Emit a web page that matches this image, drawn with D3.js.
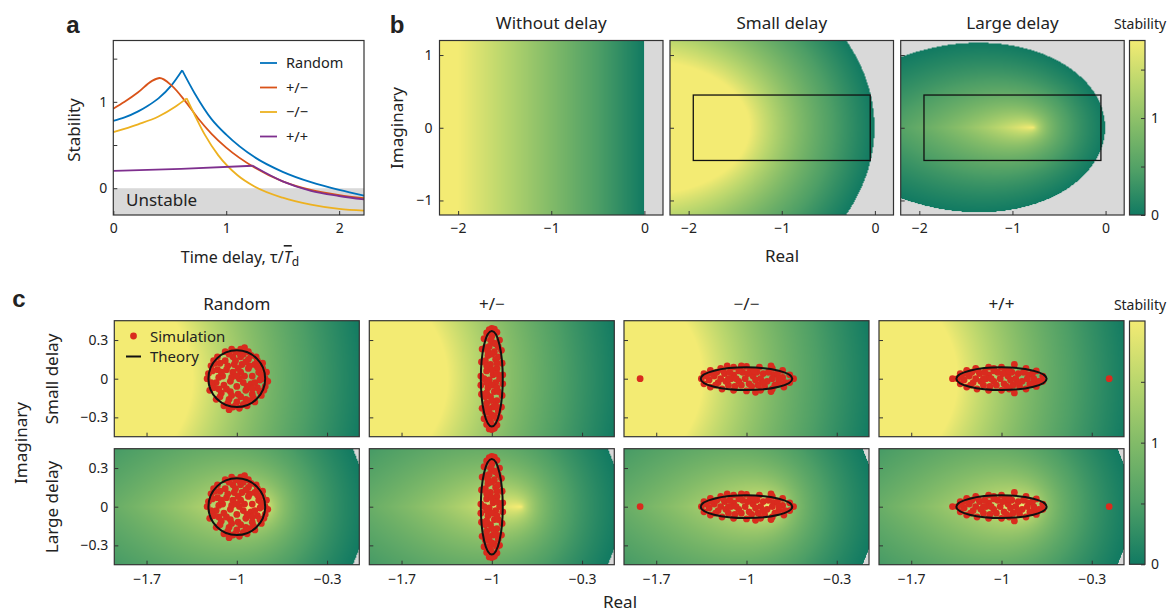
<!DOCTYPE html>
<html>
<head>
<meta charset="utf-8">
<script src="https://cdn.jsdelivr.net/npm/d3@7"></script>
<style>
  body { margin: 0; background: #fff; }
  text { font-family: "Noto Sans", "Open Sans", sans-serif; fill: #222; }
</style>
</head>
<body>
<svg id="fig"></svg>
<script>
// ---------- data ----------
// panel a: stability vs time delay
const curveRandom = [[0,0.78],[0.1,0.82],[0.22,0.89],[0.3,0.95],[0.4,1.04],[0.515,1.19],[0.61,1.365],
  [0.72,1.10],[0.87,0.80],[1.0,0.62],[1.25,0.36],[1.5,0.19],[1.75,0.07],[2.0,-0.02],[2.22,-0.085]];
const curvePlusMinus = [[0,0.92],[0.1,1.0],[0.22,1.11],[0.34,1.24],[0.41,1.276],[0.515,1.19],[0.63,1.02],
  [0.75,0.81],[0.87,0.63],[1.0,0.47],[1.25,0.24],[1.5,0.08],[1.75,-0.02],[2.0,-0.08],[2.22,-0.115]];
const curveMinusMinus = [[0,0.65],[0.22,0.74],[0.4,0.83],[0.545,0.94],[0.65,1.04],[0.72,0.85],[0.81,0.62],
  [0.93,0.38],[1.1,0.15],[1.25,0.02],[1.5,-0.11],[1.75,-0.19],[2.0,-0.24],[2.22,-0.26]];
const curvePlusPlus = [[0,0.20],[0.6,0.225],[1.235,0.26],[1.5,0.08],[1.75,-0.03],[2.0,-0.09],[2.22,-0.13]];
const curveNames = ["Random", "+/\u2212", "\u2212/\u2212", "+/+"];
const curveColors = ["#0072bd", "#d95319", "#edb120", "#7e2f8e"];
const curveKinks = [6, null, 4, 2]; // index of the sharp corner (if any)

// panel b / c: delay settings of the theory field
const fieldKinds = ["none", "small", "large"];
const fieldTitles = ["Without delay", "Small delay", "Large delay"];
const delayTau = { none: 0, small: 0.2, large: 0.48 };

// stability colour map
const stabStops = [0, 0.5, 1, 1.5, 2];
const stabColors = ["#117a62", "#4e9f66", "#82bb68", "#b9d66d", "#f3eb73"];

// panel c: eigenvalues (simulation) and theory ellipses
const colTitles = ["Random", "+/\u2212", "\u2212/\u2212", "+/+"];
const theoryCenter = [-1, -1, -1, -1];
const theoryRx = [0.22, 0.085, 0.355, 0.35];
const theoryRy = [0.22, 0.37, 0.088, 0.088];

const simRandom = [
  [-0.78,0.00],[-0.77,0.05],[-0.78,-0.06],[-0.80,0.12],[-0.81,-0.13],[-0.85,0.17],[-0.86,-0.18],[-0.91,0.21],
  [-0.92,-0.21],[-0.97,0.23],[-0.98,-0.23],[-1.04,0.23],[-1.03,-0.22],[-1.09,0.21],[-1.10,-0.21],[-1.15,0.17],
  [-1.16,-0.16],[-1.20,0.10],[-1.21,-0.09],[-1.23,0.00],[-1.22,0.04],[-0.94,0.24],[-1.06,-0.24],[-0.76,-0.02],
  [-0.83,0.05],[-0.84,-0.07],[-0.86,0.11],[-0.88,-0.12],[-0.91,0.15],[-0.93,-0.16],[-0.97,0.17],[-1.00,-0.18],
  [-1.03,0.17],[-1.06,-0.16],[-1.09,0.14],[-1.12,-0.11],[-1.15,0.07],[-1.16,-0.03],[-1.14,0.01],[-0.82,-0.01],
  [-0.88,0.02],[-0.89,-0.04],[-0.91,0.08],[-0.93,-0.09],[-0.96,0.11],[-0.99,-0.12],[-1.02,0.11],[-1.05,-0.10],
  [-1.08,0.07],[-1.10,-0.05],[-1.11,0.02],[-0.90,0.10],[-0.94,0.02],[-0.95,-0.03],[-0.97,0.05],[-1.00,-0.06],
  [-1.03,0.05],[-1.05,-0.02],[-1.04,0.01],[-0.98,0.00],[-1.00,0.02],[-0.80,0.08],[-0.82,-0.10],[-0.84,0.14],
  [-0.87,-0.15],[-0.95,0.19],[-1.01,0.21],[-1.07,-0.19],[-1.13,0.12],[-1.18,-0.07],[-1.19,0.06],[-1.17,0.12],
  [-1.13,-0.14],[-0.89,0.18],[-0.95,-0.20],[-1.01,0.14],[-0.97,-0.14],[-1.07,0.10],[-0.92,-0.06],[-0.86,-0.03],
  [-1.08,-0.08],[-1.12,0.05],[-0.93,0.13],[-1.04,-0.13],[-0.79,-0.09],[-0.81,0.03],[-1.18,0.14],[-1.20,-0.03],
  [-0.88,-0.08],[-0.99,0.08],[-1.06,0.19],[-0.98,0.20],[-0.84,0.09],[-1.14,-0.08],[-1.01,-0.21],[-0.90,-0.17]];
const simPlusMinus = [
  [-1.00,0.39],[-0.98,0.385],[-1.02,0.38],[-0.96,0.36],[-1.04,0.355],[-0.94,0.30],[-1.06,0.31],[-0.925,0.22],
  [-1.075,0.23],[-0.92,0.12],[-1.08,0.13],[-0.915,0.03],[-1.085,0.02],[-0.915,-0.04],[-1.085,-0.05],[-0.92,-0.13],
  [-1.08,-0.12],[-0.925,-0.22],[-1.075,-0.23],[-0.94,-0.30],[-1.06,-0.31],[-0.96,-0.36],[-1.04,-0.355],[-0.98,-0.385],
  [-1.02,-0.39],[-1.00,-0.395],[-1.00,0.33],[-0.99,0.28],[-1.02,0.25],[-0.98,0.21],[-1.03,0.18],[-0.97,0.15],
  [-1.01,0.11],[-0.96,0.08],[-1.04,0.06],[-0.99,0.03],[-1.02,-0.01],[-0.97,-0.03],[-1.03,-0.07],[-0.98,-0.10],
  [-1.01,-0.14],[-0.96,-0.17],[-1.04,-0.19],[-0.99,-0.22],[-1.02,-0.26],[-0.98,-0.29],[-1.01,-0.33],[-0.95,0.25],
  [-1.05,0.24],[-0.95,-0.25],[-1.05,-0.26],[-0.94,0.0],[-1.06,0.0],[-0.95,0.17],[-1.05,-0.14],[-1.05,0.14],[-0.95,-0.10],
  [-0.99,0.36],[-1.01,0.30],[-0.97,0.27],[-1.03,0.21],[-1.00,0.19],[-0.96,0.12],[-1.04,0.10],[-1.00,0.07],
  [-0.96,0.04],[-1.04,-0.03],[-1.00,-0.05],[-0.96,-0.07],[-1.04,-0.11],[-1.00,-0.17],[-0.97,-0.21],[-1.03,-0.23],
  [-1.00,-0.28],[-0.96,-0.31],[-1.03,-0.31],[-1.00,-0.36]];
const simMinusMinus = [
  [-1.35,0.0],[-1.33,0.04],[-1.33,-0.04],[-1.28,0.065],[-1.28,-0.065],[-1.20,0.08],[-1.19,-0.08],[-1.10,0.09],
  [-1.10,-0.09],[-1.00,0.095],[-1.00,-0.095],[-0.90,0.09],[-0.89,-0.09],[-0.80,0.08],[-0.80,-0.08],[-0.72,0.065],
  [-0.71,-0.065],[-0.665,0.03],[-0.665,-0.03],[-0.635,0.0],[-0.81,0.10],[-0.81,-0.10],[-1.15,0.10],[-1.04,0.10],
  [-0.93,-0.105],[-1.25,0.02],[-1.22,-0.03],[-1.17,0.04],[-1.14,-0.05],[-1.10,0.03],[-1.06,-0.02],[-1.03,0.05],
  [-0.98,-0.04],[-0.95,0.02],[-0.91,-0.05],[-0.87,0.04],[-0.84,-0.02],[-0.79,0.03],[-0.75,-0.03],[-0.72,0.01],
  [-1.29,-0.01],[-1.12,0.0],[-0.97,0.06],[-0.93,-0.01],[-1.20,0.0],[-0.86,-0.06],[-1.06,0.06],[-1.01,0.0],
  [-0.78,-0.05],[-1.16,-0.02],[-1.27,0.04],[-1.24,-0.05],[-1.18,0.06],[-1.13,0.05],[-1.09,-0.06],[-1.04,-0.05],
  [-0.99,0.04],[-0.96,-0.06],[-0.92,0.05],[-0.89,0.0],[-0.83,0.05],[-0.80,0.0],[-0.76,0.04],[-0.70,-0.03],
  [-1.31,0.02],[-1.08,0.0],[-0.87,-0.03],[-1.23,0.05],[-0.94,0.06],[-1.14,0.0],[-0.75,0.0],[-1.825,0.0]];
const simPlusPlus = [
  [-1.34,0.0],[-1.32,0.04],[-1.32,-0.04],[-1.27,0.065],[-1.27,-0.065],[-1.20,0.08],[-1.19,-0.08],[-1.10,0.09],
  [-1.10,-0.09],[-1.00,0.09],[-1.00,-0.09],[-0.90,0.11],[-0.90,-0.11],[-0.81,0.08],[-0.81,-0.08],[-0.73,0.06],
  [-0.73,-0.06],[-0.68,0.02],[-0.68,-0.02],[-1.38,0.0],[-1.25,0.02],[-1.22,-0.03],[-1.17,0.04],[-1.14,-0.05],
  [-1.10,0.03],[-1.06,-0.02],[-1.03,0.05],[-0.98,-0.04],[-0.95,0.02],[-0.91,-0.05],[-0.87,0.04],[-0.84,-0.02],
  [-0.79,0.03],[-0.75,-0.03],[-1.29,-0.01],[-1.12,0.0],[-0.97,0.06],[-0.93,-0.01],[-1.20,0.0],[-0.86,-0.06],
  [-1.06,0.06],[-1.01,0.0],[-0.78,-0.04],[-1.16,-0.02],[-1.06,0.08],[-0.94,-0.08],[-1.27,0.04],[-1.24,-0.05],
  [-1.18,0.06],[-1.13,0.05],[-1.09,-0.06],[-1.04,-0.05],[-0.99,0.04],[-0.96,-0.06],[-0.92,0.05],[-0.89,0.0],
  [-0.83,0.05],[-0.80,0.0],[-0.76,0.04],[-0.71,-0.02],[-1.31,0.02],[-1.08,0.0],[-0.87,-0.03],[-1.23,0.05],
  [-0.94,0.06],[-1.14,0.0],[-0.75,0.0],[-0.165,0.0]];
const simPoints = [simRandom, simPlusMinus, simMinusMinus, simPlusPlus];

// ---------- setup ----------
const W = 1169, H = 613;
const svg = d3.select("#fig").attr("width", W).attr("height", H);
svg.append("rect").attr("width", W).attr("height", H).attr("fill", "#fff");
const GRAY = "#d9d9d9";
const FRAME = "#333";
const TICK = 14;
const minus = (d) => String(d).replace("-", "\u2212");

const colorScale = d3.scaleLinear().domain(stabStops).range(stabColors).clamp(true);
const lut = d3.range(513).map((i) => d3.rgb(colorScale((i / 512) * 2)));
const grayRgb = d3.rgb(GRAY);

// principal branch of the Lambert W function (complex)
function lambertW0(zr, zi) {
  const guesses = [];
  const ar = 2 * (Math.E * zr + 1), ai = 2 * Math.E * zi;
  const m = Math.sqrt(Math.hypot(ar, ai)), an = Math.atan2(ai, ar) / 2;
  const pr = m * Math.cos(an), pi = m * Math.sin(an);
  const p2r = pr * pr - pi * pi, p2i = 2 * pr * pi;
  const p3r = p2r * pr - p2i * pi, p3i = p2r * pi + p2i * pr;
  guesses.push([-1 + pr - p2r / 3 + (11 / 72) * p3r, pi - p2i / 3 + (11 / 72) * p3i]);
  const lr = Math.log(Math.hypot(1 + zr, zi)), li = Math.atan2(zi, 1 + zr);
  guesses.push([lr, li]);
  guesses.push([0, 0]);
  guesses.push([-0.5, zi >= 0 ? 1 : -1]);
  for (const g of guesses) {
    let wr = g[0], wi = g[1];
    for (let k = 0; k < 60; k++) {
      const e = Math.exp(wr);
      const er = e * Math.cos(wi), ei = e * Math.sin(wi);
      const fr = wr * er - wi * ei - zr, fi = wr * ei + wi * er - zi;
      const a1r = wr + 1, a1i = wi;
      const t1r = er * a1r - ei * a1i, t1i = er * a1i + ei * a1r;
      const nr = (wr + 2) * fr - wi * fi, ni = (wr + 2) * fi + wi * fr;
      const dr = 2 * a1r, di = 2 * a1i, dd = dr * dr + di * di || 1e-300;
      const t2r = (nr * dr + ni * di) / dd, t2i = (ni * dr - nr * di) / dd;
      const Dr = t1r - t2r, Di = t1i - t2i, DD = Dr * Dr + Di * Di || 1e-300;
      const sr = (fr * Dr + fi * Di) / DD, si = (fi * Dr - fr * Di) / DD;
      wr -= sr; wi -= si;
      if (Math.abs(sr) + Math.abs(si) < 1e-12) break;
    }
    const ok = Math.abs(wi) < Math.PI &&
      (Math.abs(wi) < 1e-9 ? wr >= -1 - 1e-6 : wr > -wi / Math.tan(wi) - 1e-6);
    if (ok && isFinite(wr)) return [wr, wi];
  }
  return [NaN, NaN];
}

function stability(kind, re, im) {
  const tau = delayTau[kind];
  if (!tau) return -re;
  const w = lambertW0(re * tau, im * tau);
  return -w[0] / tau;
}

function fieldImage(kind, xs, ys) {
  const x0 = xs.range()[0], y0 = ys.range()[1];
  const w = Math.round(xs.range()[1] - x0), h = Math.round(ys.range()[0] - y0);
  const canvas = document.createElement("canvas");
  canvas.width = w; canvas.height = h;
  const ctx = canvas.getContext("2d");
  const img = ctx.createImageData(w, h);
  for (let j = 0; j < h; j++) {
    const im = ys.invert(y0 + j + 0.5);
    for (let i = 0; i < w; i++) {
      const re = xs.invert(x0 + i + 0.5);
      const s = stability(kind, re, im);
      const c = !(s >= 0) ? grayRgb : lut[Math.min(512, Math.round((s / 2) * 512))];
      const k = (j * w + i) * 4;
      img.data[k] = c.r; img.data[k + 1] = c.g; img.data[k + 2] = c.b; img.data[k + 3] = 255;
    }
  }
  ctx.putImageData(img, 0, 0);
  return canvas.toDataURL();
}

function drawField(url, xs, ys) {
  svg.append("image")
    .attr("href", url)
    .attr("x", xs.range()[0]).attr("y", ys.range()[1])
    .attr("width", xs.range()[1] - xs.range()[0])
    .attr("height", ys.range()[0] - ys.range()[1])
    .attr("preserveAspectRatio", "none");
}

function frame(xs, ys) {
  svg.append("rect")
    .attr("x", xs.range()[0]).attr("y", ys.range()[1])
    .attr("width", xs.range()[1] - xs.range()[0])
    .attr("height", ys.range()[0] - ys.range()[1])
    .attr("fill", "none").attr("stroke", FRAME).attr("stroke-width", 1.2);
}

function axes(xs, ys, xTicks, yTicks, opts) {
  const xa = d3.axisBottom(xs).tickValues(xTicks).tickSize(-4).tickPadding(opts.xPad || 10)
    .tickFormat((d) => (opts.xLabels && (!opts.xShow || opts.xShow.includes(d)) ? minus(d) : ""));
  const gx = svg.append("g").attr("transform", `translate(0,${ys.range()[0]})`).call(xa);
  const ya = d3.axisLeft(ys).tickValues(yTicks).tickSize(-4).tickPadding(opts.yPad || 6)
    .tickFormat((d) => (opts.yLabels && (!opts.yShow || opts.yShow.includes(d)) ? minus(d) : ""));
  const gy = svg.append("g").attr("transform", `translate(${xs.range()[0]},0)`).call(ya);
  [gx, gy].forEach((g) => {
    g.select(".domain").remove();
    g.selectAll("line").attr("stroke", FRAME);
    g.selectAll("text").attr("font-size", TICK).attr("fill", "#222")
      .attr("font-family", '"Noto Sans", sans-serif');
  });
}

function label(x, y, txt, size, opts = {}) {
  const t = svg.append("text").attr("x", x).attr("y", y).attr("font-size", size)
    .attr("text-anchor", opts.anchor || "middle").text(txt);
  if (opts.rotate) t.attr("transform", `rotate(-90,${x},${y})`);
  if (opts.bold) t.attr("font-weight", 700).style("font-family", "Arial, 'Liberation Sans', sans-serif");
  return t;
}

// ---------- panel a ----------
{
  const xs = d3.scaleLinear().domain([0, 2.22]).range([113.3, 364]);
  const ys = d3.scaleLinear().domain([-0.31, 1.71]).range([215, 40.5]);
  svg.append("rect").attr("x", 113.3).attr("y", ys(0)).attr("width", 364 - 113.3)
    .attr("height", 215 - ys(0)).attr("fill", GRAY);
  label(126, 206, "Unstable", 17, { anchor: "start" });
  const curves = [curveRandom, curvePlusMinus, curveMinusMinus, curvePlusPlus];
  const line = d3.line().x((d) => xs(d[0])).y((d) => ys(d[1])).curve(d3.curveMonotoneX);
  curves.forEach((c, i) => {
    const k = curveKinks[i];
    const parts = k == null ? [c] : [c.slice(0, k + 1), c.slice(k)];
    parts.forEach((p) => {
      svg.append("path").attr("d", line(p)).attr("fill", "none")
        .attr("stroke", curveColors[i]).attr("stroke-width", 1.8);
    });
  });
  frame(xs, ys);
  axes(xs, ys, [0, 1, 2], [0, 0.5, 1, 1.5],
    { xLabels: true, yLabels: true, yShow: [0, 1], xPad: 8, yPad: 6 });
  // legend
  curveNames.forEach((n, i) => {
    const y = 63 + i * 24.5;
    svg.append("line").attr("x1", 260).attr("x2", 277).attr("y1", y).attr("y2", y)
      .attr("stroke", curveColors[i]).attr("stroke-width", 1.8);
    label(286, y + 5, n, 14.5, { anchor: "start" });
  });
  label(80, 130, "Stability", 17, { rotate: true });
  const t = label(240, 263, "Time delay, \u03c4/", 16);
  t.append("tspan").attr("font-style", "italic").style("text-decoration", "overline").text("T");
  t.append("tspan").attr("font-size", 12).attr("dy", 3).text("d");
  label(73, 33, "a", 24, { bold: true });
}

// ---------- panel b ----------
{
  const px0 = [439.5, 670, 900.7];
  const ys = d3.scaleLinear().domain([-1.2, 1.2]).range([215, 40.5]);
  px0.forEach((x0, i) => {
    const xs = d3.scaleLinear().domain([-2.2, 0.2]).range([x0, x0 + 223.5]);
    drawField(fieldImage(fieldKinds[i], xs, ys), xs, ys);
    if (i > 0) {
      svg.append("rect")
        .attr("x", xs(-1.95)).attr("y", ys(0.45))
        .attr("width", xs(-0.05) - xs(-1.95)).attr("height", ys(-0.45) - ys(0.45))
        .attr("fill", "none").attr("stroke", "#111").attr("stroke-width", 1.3);
    }
    frame(xs, ys);
    axes(xs, ys, [-2, -1, 0], [-1, 0, 1], { xLabels: true, yLabels: i === 0, xPad: 8, yPad: 7 });
    label(x0 + 111.75, 29, fieldTitles[i], 17);
  });
  label(403, 128, "Imaginary", 17, { rotate: true });
  label(782, 262, "Real", 17);
  label(397, 33, "b", 24, { bold: true });
}

// colour bar helper
function colorBar(id, x0, top, bottom, max) {
  const grad = svg.append("defs").append("linearGradient").attr("id", id)
    .attr("x1", 0).attr("y1", 1).attr("x2", 0).attr("y2", 0);
  stabStops.forEach((s, i) => {
    grad.append("stop").attr("offset", s / 2).attr("stop-color", stabColors[i]);
  });
  svg.append("rect").attr("x", x0).attr("y", top).attr("width", 15.5).attr("height", bottom - top)
    .attr("fill", `url(#${id})`).attr("stroke", FRAME).attr("stroke-width", 1.2);
  const cs = d3.scaleLinear().domain([0, max]).range([bottom, top]);
  const ax = d3.axisRight(cs).tickValues([0, 0.5, 1, 1.5]).tickSize(-4).tickPadding(6)
    .tickFormat((d) => (d === 0 || d === 1 ? d : ""));
  const g = svg.append("g").attr("transform", `translate(${x0 + 15.5},0)`).call(ax);
  g.select(".domain").remove();
  g.selectAll("line").attr("stroke", FRAME);
  g.selectAll("text").attr("font-size", TICK).attr("fill", "#222");
}
colorBar("cbB", 1129.5, 40.5, 215, 1.8);
label(1140, 29, "Stability", 14);

// ---------- panel c ----------
{
  const cx0 = [114.3, 369.3, 624, 879];
  const rowTop = [320.7, 448.7];
  const rowKinds = ["small", "large"];
  const urls = {};
  rowKinds.forEach((kind, r) => {
    const ys = d3.scaleLinear().domain([-0.45, 0.45]).range([rowTop[r] + 116, rowTop[r]]);
    cx0.forEach((x0, c) => {
      const xs = d3.scaleLinear().domain([-1.95, -0.05]).range([x0, x0 + 245]);
      if (!urls[kind]) urls[kind] = fieldImage(kind, xs, ys);
      drawField(urls[kind], xs, ys);
      svg.append("g").selectAll("circle").data(simPoints[c]).join("circle")
        .attr("cx", (d) => xs(d[0])).attr("cy", (d) => ys(d[1])).attr("r", 3.4)
        .attr("fill", "#d92b1e");
      svg.append("ellipse")
        .attr("cx", xs(theoryCenter[c])).attr("cy", ys(0))
        .attr("rx", xs(theoryCenter[c] + theoryRx[c]) - xs(theoryCenter[c]))
        .attr("ry", ys(0) - ys(theoryRy[c]))
        .attr("fill", "none").attr("stroke", "#111").attr("stroke-width", 2);
      frame(xs, ys);
      axes(xs, ys, [-1.7, -1, -0.3], [-0.3, 0, 0.3],
        { xLabels: r === 1, yLabels: c === 0, xPad: 9, yPad: 6 });
      if (r === 0) label(x0 + 122.5, 310, colTitles[c], 17);
    });
  });
  // legend
  svg.append("circle").attr("cx", 133.5).attr("cy", 336).attr("r", 3.4).attr("fill", "#d92b1e");
  label(150, 341.5, "Simulation", 15, { anchor: "start" });
  svg.append("line").attr("x1", 126).attr("x2", 141).attr("y1", 356.5).attr("y2", 356.5)
    .attr("stroke", "#111").attr("stroke-width", 2);
  label(150, 362, "Theory", 15, { anchor: "start" });

  label(58, 379, "Small delay", 17, { rotate: true });
  label(58, 507, "Large delay", 17, { rotate: true });
  label(27, 443, "Imaginary", 17, { rotate: true });
  label(620, 608, "Real", 17);
  label(19, 307, "c", 24, { bold: true });
}
colorBar("cbC", 1129.5, 321, 564.3, 2.0);
label(1140, 310, "Stability", 14);
</script>
</body>
</html>
